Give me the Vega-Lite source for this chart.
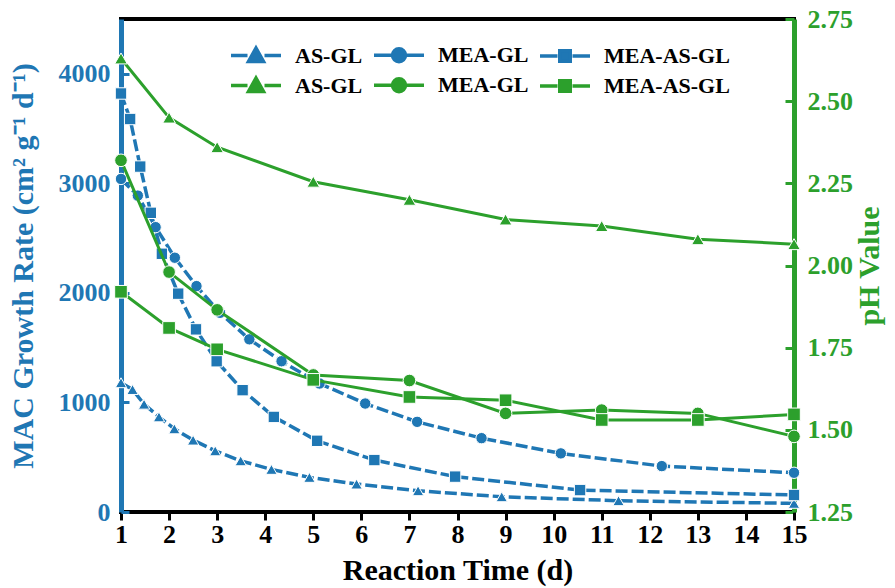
{
  "$schema": "https://vega.github.io/schema/vega-lite/v6.json",
  "width": 673,
  "height": 493,
  "autosize": "none",
  "padding": {"left": 121, "top": 19, "right": 101, "bottom": 76},
  "background": "white",
  "config": {
    "font": "Liberation Serif",
    "view": {"stroke": "black", "strokeWidth": 4},
    "axis": {
      "labelFont": "Liberation Serif",
      "titleFont": "Liberation Serif",
      "labelFontWeight": "bold",
      "titleFontWeight": "bold",
      "labelFontSize": 26,
      "titleFontSize": 30,
      "labelFlush": false,
      "labelOverlap": false,
      "domainWidth": 5
    },
    "legend": {
      "labelFont": "Liberation Serif",
      "labelFontSize": 22,
      "labelFontWeight": "bold",
      "labelColor": "black"
    }
  },
  "datasets": {
    "mac": [
      {"day": 1, "rate": 1180, "series": "AS-GL"},
      {"day": 1.24, "rate": 1118, "series": "AS-GL"},
      {"day": 1.48, "rate": 984, "series": "AS-GL"},
      {"day": 1.79, "rate": 868, "series": "AS-GL"},
      {"day": 2.11, "rate": 759, "series": "AS-GL"},
      {"day": 2.5, "rate": 656, "series": "AS-GL"},
      {"day": 2.96, "rate": 558, "series": "AS-GL"},
      {"day": 3.49, "rate": 467, "series": "AS-GL"},
      {"day": 4.13, "rate": 389, "series": "AS-GL"},
      {"day": 4.92, "rate": 316, "series": "AS-GL"},
      {"day": 5.9, "rate": 255, "series": "AS-GL"},
      {"day": 7.18, "rate": 194, "series": "AS-GL"},
      {"day": 8.92, "rate": 139, "series": "AS-GL"},
      {"day": 11.35, "rate": 103, "series": "AS-GL"},
      {"day": 15, "rate": 79, "series": "AS-GL"},
      {"day": 1, "rate": 3040, "series": "MEA-GL"},
      {"day": 1.35, "rate": 2888, "series": "MEA-GL"},
      {"day": 1.72, "rate": 2600, "series": "MEA-GL"},
      {"day": 2.12, "rate": 2321, "series": "MEA-GL"},
      {"day": 2.57, "rate": 2062, "series": "MEA-GL"},
      {"day": 3.06, "rate": 1818, "series": "MEA-GL"},
      {"day": 3.67, "rate": 1576, "series": "MEA-GL"},
      {"day": 4.34, "rate": 1376, "series": "MEA-GL"},
      {"day": 5.13, "rate": 1173, "series": "MEA-GL"},
      {"day": 6.08, "rate": 990, "series": "MEA-GL"},
      {"day": 7.16, "rate": 823, "series": "MEA-GL"},
      {"day": 8.5, "rate": 674, "series": "MEA-GL"},
      {"day": 10.15, "rate": 535, "series": "MEA-GL"},
      {"day": 12.25, "rate": 419, "series": "MEA-GL"},
      {"day": 15, "rate": 358, "series": "MEA-GL"},
      {"day": 1, "rate": 3820, "series": "MEA-AS-GL"},
      {"day": 1.19, "rate": 3587, "series": "MEA-AS-GL"},
      {"day": 1.4, "rate": 3153, "series": "MEA-AS-GL"},
      {"day": 1.62, "rate": 2731, "series": "MEA-AS-GL"},
      {"day": 1.85, "rate": 2357, "series": "MEA-AS-GL"},
      {"day": 2.19, "rate": 1993, "series": "MEA-AS-GL"},
      {"day": 2.56, "rate": 1667, "series": "MEA-AS-GL"},
      {"day": 2.99, "rate": 1376, "series": "MEA-AS-GL"},
      {"day": 3.53, "rate": 1112, "series": "MEA-AS-GL"},
      {"day": 4.18, "rate": 868, "series": "MEA-AS-GL"},
      {"day": 5.08, "rate": 650, "series": "MEA-AS-GL"},
      {"day": 6.27, "rate": 474, "series": "MEA-AS-GL"},
      {"day": 7.95, "rate": 323, "series": "MEA-AS-GL"},
      {"day": 10.55, "rate": 200, "series": "MEA-AS-GL"},
      {"day": 15, "rate": 155, "series": "MEA-AS-GL"}
    ],
    "ph": [
      {"day": 1, "ph": 2.63, "series": "AS-GL"},
      {"day": 2, "ph": 2.45, "series": "AS-GL"},
      {"day": 3, "ph": 2.36, "series": "AS-GL"},
      {"day": 5, "ph": 2.255, "series": "AS-GL"},
      {"day": 7, "ph": 2.2, "series": "AS-GL"},
      {"day": 9, "ph": 2.14, "series": "AS-GL"},
      {"day": 11, "ph": 2.12, "series": "AS-GL"},
      {"day": 13, "ph": 2.08, "series": "AS-GL"},
      {"day": 15, "ph": 2.065, "series": "AS-GL"},
      {"day": 1, "ph": 2.32, "series": "MEA-GL"},
      {"day": 2, "ph": 1.98, "series": "MEA-GL"},
      {"day": 3, "ph": 1.865, "series": "MEA-GL"},
      {"day": 5, "ph": 1.667, "series": "MEA-GL"},
      {"day": 7, "ph": 1.65, "series": "MEA-GL"},
      {"day": 9, "ph": 1.55, "series": "MEA-GL"},
      {"day": 11, "ph": 1.56, "series": "MEA-GL"},
      {"day": 13, "ph": 1.55, "series": "MEA-GL"},
      {"day": 15, "ph": 1.48, "series": "MEA-GL"},
      {"day": 1, "ph": 1.92, "series": "MEA-AS-GL"},
      {"day": 2, "ph": 1.81, "series": "MEA-AS-GL"},
      {"day": 3, "ph": 1.745, "series": "MEA-AS-GL"},
      {"day": 5, "ph": 1.652, "series": "MEA-AS-GL"},
      {"day": 7, "ph": 1.6, "series": "MEA-AS-GL"},
      {"day": 9, "ph": 1.59, "series": "MEA-AS-GL"},
      {"day": 11, "ph": 1.53, "series": "MEA-AS-GL"},
      {"day": 13, "ph": 1.53, "series": "MEA-AS-GL"},
      {"day": 15, "ph": 1.547, "series": "MEA-AS-GL"}
    ],
    "legendkeys": [
      {"key": "AS-GL"},
      {"key": "MEA-GL"},
      {"key": "MEA-AS-GL"}
    ]
  },
  "layer": [
    {
      "data": {"name": "mac"},
      "resolve": {"axis": {"y": "independent"}},
      "layer": [
        {
          "mark": {"type": "line", "color": "#1f77b4", "strokeWidth": 3.5, "strokeDash": [12, 4]},
          "encoding": {
            "x": {
              "field": "day", "type": "quantitative",
              "scale": {"domain": [1, 15], "nice": false, "zero": false},
              "axis": {
                "title": "Reaction Time (d)",
                "values": [1, 2, 3, 4, 5, 6, 7, 8, 9, 10, 11, 12, 13, 14, 15],
                "format": "d",
                "grid": false,
                "ticks": true,
                "tickSize": 8,
                "tickWidth": 3,
                "tickColor": "black",
                "domain": false,
                "labelColor": "black",
                "titleColor": "black",
                "labelPadding": 1,
                "titlePadding": 8
              }
            },
            "y": {
              "field": "rate", "type": "quantitative",
              "scale": {"domain": [0, 4500], "nice": false, "zero": false},
              "axis": {
                "orient": "left",
                "title": "MAC Growth Rate (cm² g⁻¹ d⁻¹)",
                "values": [0, 1000, 2000, 3000, 4000],
                "format": "d",
                "grid": false,
                "ticks": true,
                "tickSize": -8,
                "tickWidth": 3,
                "tickColor": "#1f77b4",
                "domain": false,
                "labelColor": "#1f77b4",
                "titleColor": "#1f77b4",
                "labelPadding": 19,
                "titlePadding": 20
              }
            },
            "detail": {"field": "series"}
          }
        },
        {
          "mark": {"type": "point", "filled": true, "color": "#1f77b4", "opacity": 1, "size": 130, "stroke": "white", "strokeWidth": 1},
          "encoding": {
            "x": {"field": "day", "type": "quantitative"},
            "y": {
              "field": "rate", "type": "quantitative",
              "axis": {"orient": "left", "title": null, "grid": false, "ticks": false, "labels": false, "domain": true, "domainColor": "#1f77b4", "domainWidth": 5}
            },
            "shape": {
              "field": "series", "type": "nominal",
              "scale": {"domain": ["AS-GL", "MEA-GL", "MEA-AS-GL"], "range": ["triangle-up", "circle", "square"]},
              "legend": null
            }
          }
        }
      ]
    },
    {
      "data": {"name": "ph"},
      "resolve": {"axis": {"y": "independent"}},
      "layer": [
        {
          "mark": {"type": "line", "color": "#2ca02c", "strokeWidth": 3},
          "encoding": {
            "x": {"field": "day", "type": "quantitative"},
            "y": {
              "field": "ph", "type": "quantitative",
              "scale": {"domain": [1.25, 2.75], "nice": false, "zero": false},
              "axis": {
                "orient": "right",
                "title": "pH Value",
                "titleAngle": 270,
                "titleBaseline": "top",
                "values": [1.25, 1.5, 1.75, 2, 2.25, 2.5, 2.75],
                "format": ".2f",
                "ticks": false,
                "grid": true,
                "gridColor": "#2ca02c",
                "gridWidth": 3,
                "gridOpacity": 1,
                "gridDash": [9, 2000],
                "domain": false,
                "labelColor": "#2ca02c",
                "titleColor": "#2ca02c",
                "labelPadding": 13,
                "titlePadding": 2
              }
            },
            "detail": {"field": "series"}
          }
        },
        {
          "mark": {"type": "point", "filled": true, "color": "#2ca02c", "opacity": 1, "size": 160, "stroke": "white", "strokeWidth": 1},
          "encoding": {
            "x": {"field": "day", "type": "quantitative"},
            "y": {
              "field": "ph", "type": "quantitative",
              "axis": {"orient": "right", "title": null, "grid": false, "ticks": false, "labels": false, "domain": true, "domainColor": "#2ca02c", "domainWidth": 5}
            },
            "shape": {
              "field": "series", "type": "nominal",
              "scale": {"domain": ["AS-GL", "MEA-GL", "MEA-AS-GL"], "range": ["triangle-up", "circle", "square"]},
              "legend": null
            }
          }
        }
      ]
    },
    {
      "data": {"name": "legendkeys"},
      "transform": [{"filter": "datum.key == 'none'"}],
      "mark": {"type": "point", "filled": true, "opacity": 1, "strokeWidth": 3.5},
      "encoding": {
        "fill": {
          "field": "blue_key", "type": "nominal",
          "scale": {"domain": ["AS-GL", "MEA-GL", "MEA-AS-GL"], "range": ["#1f77b4", "#1f77b4", "#1f77b4"]},
          "legend": {"title": null, "orient": "none", "legendX": 108, "legendY": 9, "columns": 3, "direction": "horizontal", "symbolSize": 2500, "symbolStrokeWidth": 3.5, "columnPadding": 4, "labelOffset": 12, "padding": 0}
        },
        "stroke": {
          "field": "blue_key", "type": "nominal",
          "scale": {"domain": ["AS-GL", "MEA-GL", "MEA-AS-GL"], "range": ["#1f77b4", "#1f77b4", "#1f77b4"]},
          "legend": {"title": null, "orient": "none", "legendX": 108, "legendY": 9, "columns": 3, "direction": "horizontal", "symbolSize": 2500, "symbolStrokeWidth": 3.5, "columnPadding": 4, "labelOffset": 12, "padding": 0}
        },
        "shape": {
          "field": "blue_key", "type": "nominal",
          "scale": {"domain": ["AS-GL", "MEA-GL", "MEA-AS-GL"], "range": [
            "M-1,0H-0.34M0.34,0H1M0,-0.3L0.3,0.24L-0.3,0.24Z",
            "M-1,0H-0.3M0.3,0H1M-0.26,0A0.26,0.26 0 1,0 0.26,0A0.26,0.26 0 1,0 -0.26,0Z",
            "M-1,0H-0.3M0.3,0H1M-0.21,-0.21H0.21V0.21H-0.21Z"
          ]},
          "legend": {"title": null, "orient": "none", "legendX": 108, "legendY": 9, "columns": 3, "direction": "horizontal", "symbolSize": 2500, "symbolStrokeWidth": 3.5, "columnPadding": 4, "labelOffset": 12, "padding": 0}
        }
      }
    },
    {
      "data": {"name": "legendkeys"},
      "transform": [{"filter": "datum.key == 'none'"}],
      "mark": {"type": "point", "filled": true, "opacity": 1, "strokeWidth": 3.5},
      "encoding": {
        "fill": {
          "field": "green_key", "type": "nominal",
          "scale": {"domain": ["AS-GL", "MEA-GL", "MEA-AS-GL"], "range": ["#2ca02c", "#2ca02c", "#2ca02c"]},
          "legend": {"title": null, "orient": "none", "legendX": 108, "legendY": 39, "columns": 3, "direction": "horizontal", "symbolSize": 2500, "symbolStrokeWidth": 3.5, "columnPadding": 4, "labelOffset": 12, "padding": 0}
        },
        "stroke": {
          "field": "green_key", "type": "nominal",
          "scale": {"domain": ["AS-GL", "MEA-GL", "MEA-AS-GL"], "range": ["#2ca02c", "#2ca02c", "#2ca02c"]},
          "legend": {"title": null, "orient": "none", "legendX": 108, "legendY": 39, "columns": 3, "direction": "horizontal", "symbolSize": 2500, "symbolStrokeWidth": 3.5, "columnPadding": 4, "labelOffset": 12, "padding": 0}
        },
        "shape": {
          "field": "green_key", "type": "nominal",
          "scale": {"domain": ["AS-GL", "MEA-GL", "MEA-AS-GL"], "range": [
            "M-1,0H-0.34M0.34,0H1M0,-0.3L0.3,0.24L-0.3,0.24Z",
            "M-1,0H-0.3M0.3,0H1M-0.26,0A0.26,0.26 0 1,0 0.26,0A0.26,0.26 0 1,0 -0.26,0Z",
            "M-1,0H-0.3M0.3,0H1M-0.21,-0.21H0.21V0.21H-0.21Z"
          ]},
          "legend": {"title": null, "orient": "none", "legendX": 108, "legendY": 39, "columns": 3, "direction": "horizontal", "symbolSize": 2500, "symbolStrokeWidth": 3.5, "columnPadding": 4, "labelOffset": 12, "padding": 0}
        }
      }
    }
  ],
  "resolve": {
    "scale": {"y": "independent", "shape": "independent", "fill": "independent", "stroke": "independent"}
  }
}
